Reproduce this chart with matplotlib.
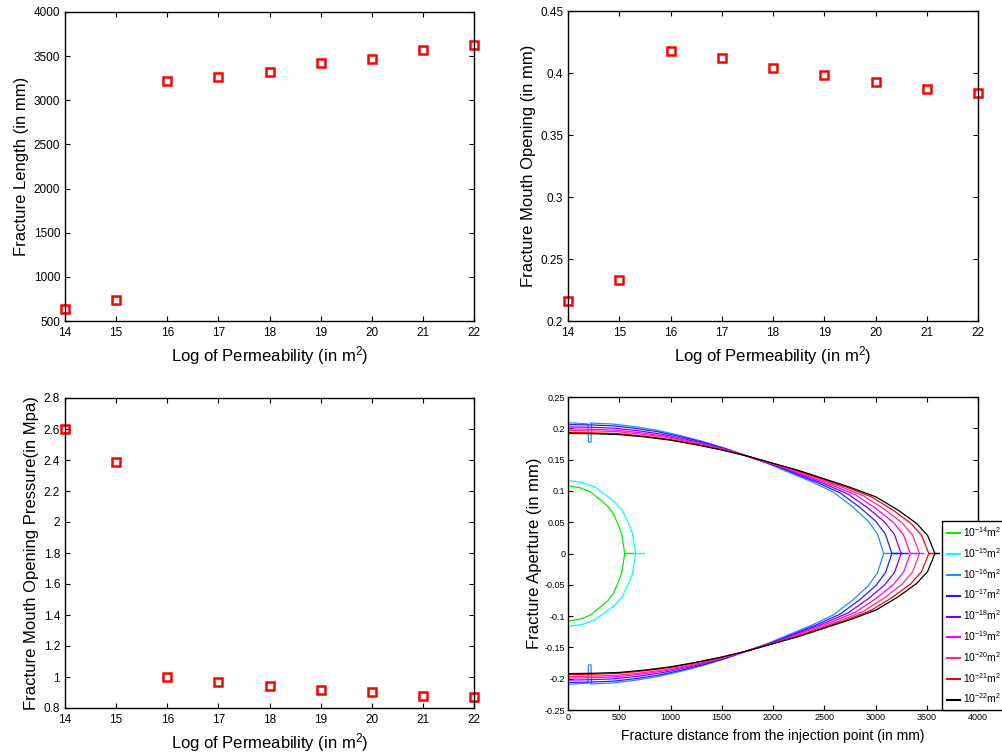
import numpy as np
import matplotlib
matplotlib.use('Agg')
import matplotlib.pyplot as plt
from matplotlib.ticker import FuncFormatter

plt.rcParams['font.family'] = ['Liberation Sans', 'DejaVu Sans']
plt.rcParams['axes.unicode_minus'] = False
plt.rcParams['mathtext.fontset'] = 'custom'
plt.rcParams['mathtext.rm'] = 'Liberation Sans'
plt.rcParams['mathtext.it'] = 'Liberation Sans:italic'
plt.rcParams['mathtext.default'] = 'regular'

# datos
log_perm = [14, 15, 16, 17, 18, 19, 20, 21, 22]
frac_length = [641, 743, 3214, 3264, 3317, 3417, 3471, 3572, 3622]          # mm
mouth_opening = [0.216, 0.233, 0.418, 0.412, 0.4044, 0.398, 0.393, 0.3868, 0.3838]  # mm
mouth_pressure = [2.60, 2.39, 1.00, 0.97, 0.944, 0.918, 0.901, 0.877, 0.869]  # Mpa

# punto donde el perfil se cierra (mm), despues sigue en cero hasta frac_length
tip_closure = [553, 661, 3080, 3160, 3250, 3340, 3430, 3520, 3580]

# forma normalizada del perfil (x/L, w/w0)
shape_short_f = [0, 0.2, 0.4, 0.56, 0.7, 0.8, 0.89, 0.95, 1.0]
shape_short_w = [1.0, 0.975, 0.91, 0.8, 0.7, 0.59, 0.42, 0.28, 0.0]
shape_long_f = [0, 0.07, 0.14, 0.21, 0.28, 0.35, 0.42, 0.49, 0.56, 0.63,
                0.70, 0.77, 0.84, 0.90, 0.95, 0.98, 1.0]
shape_long_w = [1.0, 0.997, 0.99, 0.97, 0.943, 0.905, 0.861, 0.81, 0.75, 0.69,
                0.62, 0.55, 0.47, 0.36, 0.25, 0.15, 0.0]

# pequeño salto en la curva de 1e-16 cerca de la boca
dip_x = [195, 200, 225, 230]
dip_w = [0.207, 0.178, 0.178, 0.206]

colores = ['#00ee00', '#00ffff', '#1e8fff', '#2020ff', '#8000ff',
           '#ff00ff', '#ff2a8c', '#ff0000', '#000000']

W, H = 1002, 755
fig = plt.figure(figsize=(W / 100, H / 100), dpi=100)

fmt_g = FuncFormatter(lambda v, pos: '%g' % (round(v, 4) + 0.0))


def ejes(l, t, r, b):
    return fig.add_axes([l / W, 1 - b / H, (r - l) / W, (b - t) / H])


def estilo(ax, size=8.5):
    ax.tick_params(direction='in', top=True, right=True, length=3.5, width=0.8,
                   labelsize=size)
    ax.tick_params(axis='x', pad=4)
    ax.tick_params(axis='y', pad=3.5)
    for s in ax.spines.values():
        s.set_linewidth(1.0)


def scatter_panel(ax, y, ylabel, ylim, step):
    ax.plot(log_perm, y, 's', mfc='none', mec='red', ms=5.5, mew=1.8, clip_on=False)
    ax.set_xlim(14, 22)
    ax.set_xticks(log_perm)
    ax.set_ylim(*ylim)
    ax.set_yticks(np.arange(ylim[0], ylim[1] + step / 2, step))
    ax.yaxis.set_major_formatter(fmt_g)
    ax.set_xlabel('Log of Permeability (in m$^2$)', fontsize=12, labelpad=4)
    ax.set_ylabel(ylabel, fontsize=12, labelpad=3)
    estilo(ax)


ax1 = ejes(65, 12, 474, 321)
scatter_panel(ax1, frac_length, 'Fracture Length (in mm)', (500, 4000), 500)

ax2 = ejes(568, 11, 978, 321)
scatter_panel(ax2, mouth_opening, 'Fracture Mouth Opening (in mm)', (0.2, 0.45), 0.05)

ax3 = ejes(65, 398, 474, 708)
scatter_panel(ax3, mouth_pressure, 'Fracture Mouth Opening Pressure(in Mpa)', (0.8, 2.8), 0.2)

# perfiles de apertura
ax4 = ejes(568, 397, 978, 710)
for k, e in enumerate(log_perm):
    if k < 2:
        sf, sw = shape_short_f, shape_short_w
    else:
        sf, sw = shape_long_f, shape_long_w
    w0 = mouth_opening[k] / 2
    x = list(np.array(sf) * tip_closure[k]) + [frac_length[k]]
    w = list(np.array(sw) * w0) + [0.0]
    if e == 16:
        x = x[:1] + dip_x + x[1:]
        w = w[:1] + dip_w + w[1:]
    x = np.array(x)
    w = np.array(w)
    ax4.plot(x, w, color=colores[k], lw=0.9, label=r'$10^{-%d}$m$^2$' % e)
    ax4.plot(x, -w, color=colores[k], lw=0.9)

ax4.set_xlim(0, 4000)
ax4.set_xticks(np.arange(0, 4001, 500))
ax4.set_ylim(-0.25, 0.25)
ax4.set_yticks(np.arange(-0.25, 0.2501, 0.05))
ax4.yaxis.set_major_formatter(fmt_g)
ax4.set_xlabel('Fracture distance from the injection point (in mm)', fontsize=10, labelpad=5)
ax4.set_ylabel('Fracture Aperture (in mm)', fontsize=12, labelpad=2)
estilo(ax4, size=6.5)
ax4.tick_params(axis='both', pad=2)

leg = ax4.legend(loc='lower left', bbox_to_anchor=(0.913, 0.0), borderaxespad=0,
                 fancybox=False, edgecolor='black', framealpha=1, fontsize=7.4,
                 handlelength=1.3, handletextpad=0.25, labelspacing=0.68, borderpad=0.45)
leg.get_frame().set_linewidth(1.0)
leg.set_zorder(5)
for h in leg.get_lines():
    h.set_linewidth(1.5)

plt.savefig('out.png', dpi=100)
